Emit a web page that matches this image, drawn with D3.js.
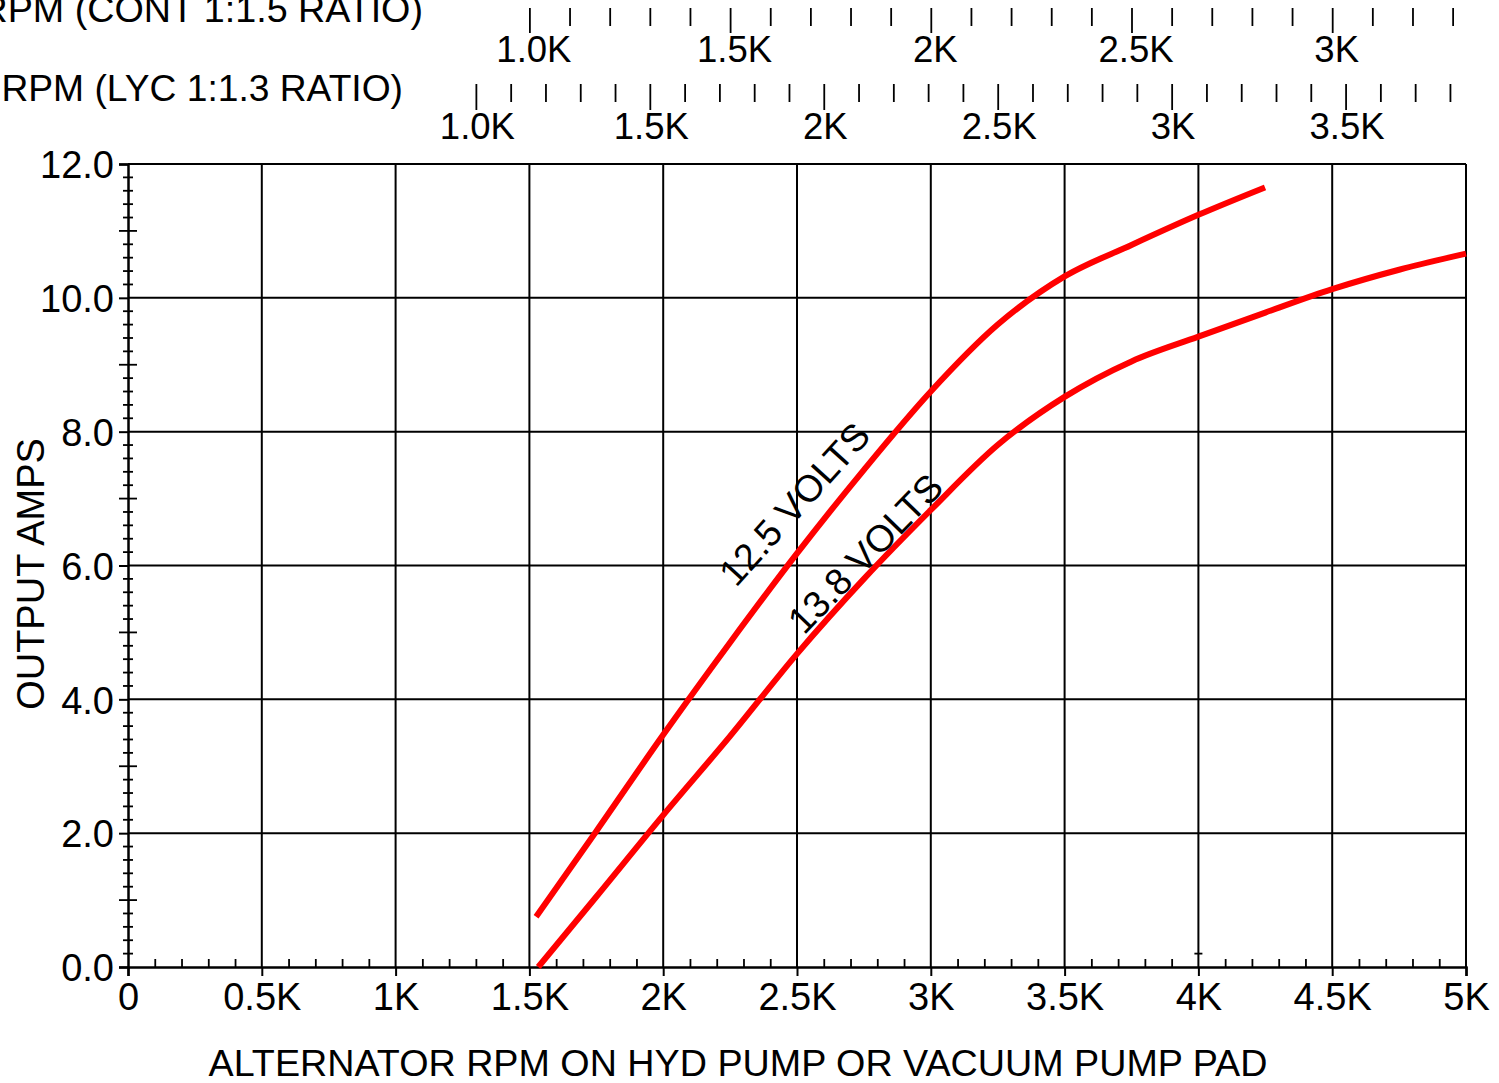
<!DOCTYPE html>
<html><head><meta charset="utf-8">
<script src="https://cdn.jsdelivr.net/npm/d3@7"></script>
<style>
body{margin:0;background:#fff}
svg{display:block}
text{font-family:"Liberation Sans",Arial,Helvetica,sans-serif;fill:#000}
</style>
</head><body>
<svg id="chart" width="1499" height="1083"></svg>
<script>
// ---- data ----
const rpm125  = [1525,1750,2000,2250,2500,2750,3000,3250,3500,3750,4000,4249];
const amps125 = [0.75,2.03,3.47,4.85,6.18,7.43,8.60,9.60,10.32,10.79,11.24,11.65];
const rpm138  = [1533,1750,2000,2250,2500,2750,3000,3250,3500,3750,4000,4250,4500,4750,5000];
const amps138 = [0.00,1.05,2.27,3.45,4.68,5.80,6.83,7.80,8.52,9.05,9.42,9.78,10.13,10.42,10.66];
const seriesNames = ["12.5 VOLTS","13.8 VOLTS"];
const labelRpm  = [2490, 2755];
const labelAmps = [6.92, 6.18];
const labelAngle = [-48, -46];

const xTicks = [0,500,1000,1500,2000,2500,3000,3500,4000,4500,5000];
const xTickLabels = ["0","0.5K","1K","1.5K","2K","2.5K","3K","3.5K","4K","4.5K","5K"];
const yTicks = [0,2,4,6,8,10,12];
const yTickLabels = ["0.0","2.0","4.0","6.0","8.0","10.0","12.0"];

const contRatio = 1.5, lycRatio = 1.3;
const contTicks = [1000,1500,2000,2500,3000];
const contLabels = ["1.0K","1.5K","2K","2.5K","3K"];
const contMinorRange = [1000,3300];
const lycTicks = [1000,1500,2000,2500,3000,3500];
const lycLabels = ["1.0K","1.5K","2K","2.5K","3K","3.5K"];
const lycMinorRange = [1000,3800];

const xTitle = "ALTERNATOR RPM ON HYD PUMP OR VACUUM PUMP PAD";
const yTitle = "OUTPUT AMPS";
const contTitle = "RPM (CONT 1:1.5 RATIO)";
const lycTitle = "RPM (LYC 1:1.3 RATIO)";

// ---- layout ----
const svg = d3.select("#chart");
const L = 128, R = 1466, T = 164, B = 967;
const x = d3.scaleLinear().domain([0,5000]).range([L,R]);
const y = d3.scaleLinear().domain([0,12]).range([B,T]);
const FS = 38, FS_TOP = 36.5, FS_TITLE = 37.7;

// gridlines
const grid = svg.append("g").attr("stroke","#000").attr("stroke-width",2);
grid.selectAll("line.v").data(xTicks.filter(d=>d>0)).join("line")
  .attr("class","v")
  .attr("x1",d=>x(d)).attr("x2",d=>x(d)).attr("y1",y(12)).attr("y2",y(0));
grid.selectAll("line.h").data(yTicks.filter(d=>d>0)).join("line")
  .attr("class","h")
  .attr("x1",x(0)).attr("x2",x(5000)).attr("y1",d=>y(d)).attr("y2",d=>y(d));

// bottom axis: minor ticks (inside, upward)
const minorX = d3.range(0,51).map(i=>i*100).filter(d=>d%500!==0);
svg.append("g").attr("transform",`translate(0,${y(0)})`)
  .call(d3.axisBottom(x).tickValues(minorX).tickSize(-8).tickFormat(""))
  .call(g=>g.select(".domain").remove())
  .call(g=>g.selectAll("line").attr("stroke","#000").attr("stroke-width",1.8));
// bottom axis: major ticks + labels
svg.append("g").attr("transform",`translate(0,${y(0)})`)
  .call(d3.axisBottom(x).tickValues(xTicks).tickSize(9).tickPadding(7)
        .tickFormat((d,i)=>xTickLabels[i]))
  .call(g=>g.select(".domain").attr("stroke","#000").attr("stroke-width",2.5))
  .call(g=>g.selectAll("line").attr("stroke","#000").attr("stroke-width",2))
  .call(g=>g.selectAll("text").attr("font-size",FS).attr("fill","#000"))
  .attr("font-family",null);

// left axis minor ticks (crossing)
const minorY = d3.range(0,61).map(i=>i/5).filter(d=>Math.abs(d-Math.round(d))>1e-6);
svg.append("g").attr("stroke","#000").attr("stroke-width",1.8)
  .selectAll("line").data(minorY).join("line")
  .attr("x1",x(0)-5).attr("x2",x(0)+5).attr("y1",d=>y(d)).attr("y2",d=>y(d));
// odd integer ticks (longer, crossing)
const midY = [1,3,5,7,9,11];
svg.append("g").attr("stroke","#000").attr("stroke-width",1.8)
  .selectAll("line").data(midY).join("line")
  .attr("x1",x(0)-9).attr("x2",x(0)+9).attr("y1",d=>y(d)).attr("y2",d=>y(d));
// left axis major ticks + labels
svg.append("g").attr("transform",`translate(${x(0)},0)`)
  .call(d3.axisLeft(y).tickValues(yTicks).tickSize(9).tickPadding(5)
        .tickFormat((d,i)=>yTickLabels[i]))
  .call(g=>g.select(".domain").attr("stroke","#000").attr("stroke-width",2.5))
  .call(g=>g.selectAll("line").attr("stroke","#000").attr("stroke-width",2))
  .call(g=>g.selectAll("text").attr("font-size",FS).attr("fill","#000").attr("dy","0.36em"))
  .attr("font-family",null);

// small stray tick at 4K near axis
svg.append("line").attr("stroke","#000").attr("stroke-width",1.8)
  .attr("x1",x(4000)-4).attr("x2",x(4000)+4).attr("y1",y(0.2)).attr("y2",y(0.2));

// top engine rpm axes
function topAxis(ratio, ticks, labels, minorRange, y0, majorLen, minorLen, dx){
  const s = d3.scaleLinear().domain([0,5000/ratio]).range([x(0),x(5000)]);
  const minors = d3.range(minorRange[0], minorRange[1]+1, 100).filter(d=>d%500!==0);
  svg.append("g").attr("transform",`translate(0,${y0})`)
    .call(d3.axisBottom(s).tickValues(minors).tickSize(minorLen).tickFormat(""))
    .call(g=>g.select(".domain").remove())
    .call(g=>g.selectAll("line").attr("stroke","#000").attr("stroke-width",1.8));
  svg.append("g").attr("transform",`translate(0,${y0})`)
    .call(d3.axisBottom(s).tickValues(ticks).tickSize(majorLen).tickPadding(3)
          .tickFormat((d,i)=>labels[i]))
    .call(g=>g.select(".domain").remove())
    .call(g=>g.selectAll("line").attr("stroke","#000").attr("stroke-width",1.8))
    .call(g=>g.selectAll("text").attr("font-size",FS_TOP).attr("fill","#000").attr("dx",dx))
    .attr("font-family",null);
}
topAxis(contRatio, contTicks, contLabels, contMinorRange, 8, 25, 18, 4);
topAxis(lycRatio, lycTicks, lycLabels, lycMinorRange, 84, 26, 18, 1);

svg.append("text").attr("x",423).attr("y",22).attr("text-anchor","end")
  .attr("font-size",FS_TITLE).text(contTitle);
svg.append("text").attr("x",403).attr("y",101).attr("text-anchor","end")
  .attr("font-size",37.2).text(lycTitle);

// curves
const line = d3.line().x(d=>x(d[0])).y(d=>y(d[1])).curve(d3.curveMonotoneX);
const series = [d3.zip(rpm125,amps125), d3.zip(rpm138,amps138)];
svg.append("g").selectAll("path").data(series).join("path")
  .attr("d",line).attr("fill","none").attr("stroke","#ff0000")
  .attr("stroke-width",6).attr("stroke-linecap","butt");

// curve labels
svg.append("g").selectAll("text").data(seriesNames).join("text")
  .attr("transform",(d,i)=>`translate(${x(labelRpm[i])},${y(labelAmps[i])}) rotate(${labelAngle[i]})`)
  .attr("text-anchor","middle").attr("dy","0.35em").attr("font-size",37.5)
  .text(d=>d);

// axis titles
svg.append("text").attr("x",738).attr("y",1076).attr("text-anchor","middle")
  .attr("font-size",FS_TITLE).text(xTitle);
svg.append("text").attr("transform",`translate(44,574) rotate(-90)`)
  .attr("text-anchor","middle").attr("font-size",38).text(yTitle);
</script>
</body></html>
